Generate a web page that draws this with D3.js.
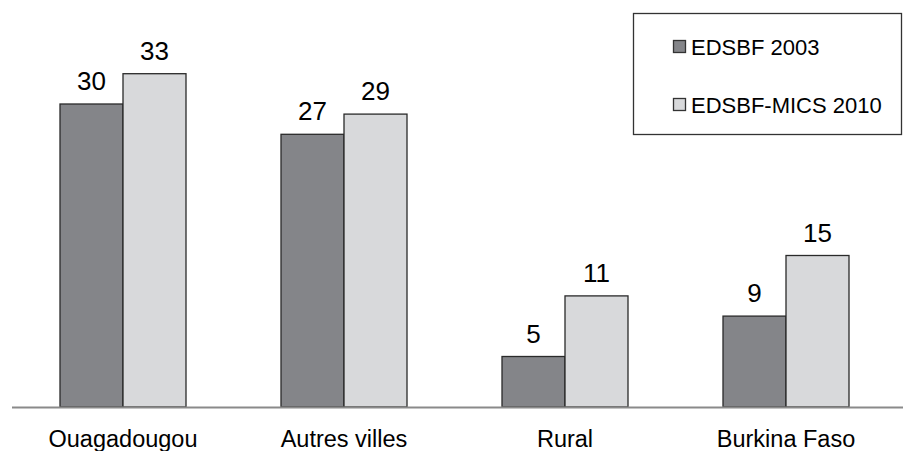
<!DOCTYPE html>
<html><head><meta charset="utf-8">
<script src="https://cdn.jsdelivr.net/npm/d3@7"></script>
<style>body{margin:0;background:#fff;} svg{display:block;font-family:"Liberation Sans",Arial,sans-serif;}</style>
</head><body>
<svg id="c" width="903" height="451"></svg>
<script>
const categories = ["Ouagadougou", "Autres villes", "Rural", "Burkina Faso"];
const seriesNames = ["EDSBF 2003", "EDSBF-MICS 2010"];
const values2003 = [30, 27, 5, 9];
const values2010 = [33, 29, 11, 15];
const colors = ["#848589", "#d8d9db"];

const svg = d3.select("#c");
const baseY = 407;
const x0 = d3.scaleBand().domain(categories).range([12.5, 896.5]).paddingInner(0).paddingOuter(0);
const x1 = d3.scaleBand().domain(seriesNames).range([0, 126]);
const y = d3.scaleLinear().domain([0, 10]).range([baseY, baseY - 101]);

const data = categories.map((c, i) => ({cat: c, vals: [values2003[i], values2010[i]]}));

const g = svg.append("g");
const groups = g.selectAll("g.grp").data(data).enter().append("g")
  .attr("transform", d => `translate(${x0(d.cat) + x0.bandwidth()/2 - 63},0)`);

groups.selectAll("rect").data(d => d.vals.map((v, j) => ({v, j}))).enter().append("rect")
  .attr("x", d => x1(seriesNames[d.j]))
  .attr("y", d => y(d.v))
  .attr("width", x1.bandwidth())
  .attr("height", d => baseY - y(d.v))
  .attr("fill", d => colors[d.j])
  .attr("stroke", "#2a2a2a")
  .attr("stroke-width", 1.3);

groups.selectAll("text").data(d => d.vals.map((v, j) => ({v, j}))).enter().append("text")
  .attr("x", d => x1(seriesNames[d.j]) + x1.bandwidth()/2)
  .attr("y", d => y(d.v) - 14)
  .attr("text-anchor", "middle")
  .attr("font-size", 26)
  .attr("fill", "#000")
  .text(d => d.v);

// axis
const xAxis = d3.axisBottom(x0).tickSize(0).tickPadding(23);
const ax = svg.append("g").attr("transform", `translate(0,${baseY})`).call(xAxis);
ax.select(".domain").remove();
ax.selectAll("text").attr("font-size", 23.5).attr("fill", "#000").attr("font-family", '"Liberation Sans",Arial,sans-serif');
svg.append("line").attr("x1", 12).attr("x2", 903).attr("y1", baseY + 0.5).attr("y2", baseY + 0.5)
  .attr("stroke", "#8a8a8a").attr("stroke-width", 2);

// legend
const leg = svg.append("g");
leg.append("rect").attr("x", 633.5).attr("y", 13.5).attr("width", 268).attr("height", 121)
  .attr("fill", "#fff").attr("stroke", "#333").attr("stroke-width", 1.3);
seriesNames.forEach((s, i) => {
  const cy = 47 + i * 58;
  leg.append("rect").attr("x", 673.5).attr("y", cy - 6.5).attr("width", 12).attr("height", 12)
    .attr("fill", colors[i]).attr("stroke", "#333").attr("stroke-width", 1.3);
  leg.append("text").attr("x", 691).attr("y", cy + 8).attr("font-size", 22).attr("fill", "#000").text(s);
});
</script>
</body></html>
